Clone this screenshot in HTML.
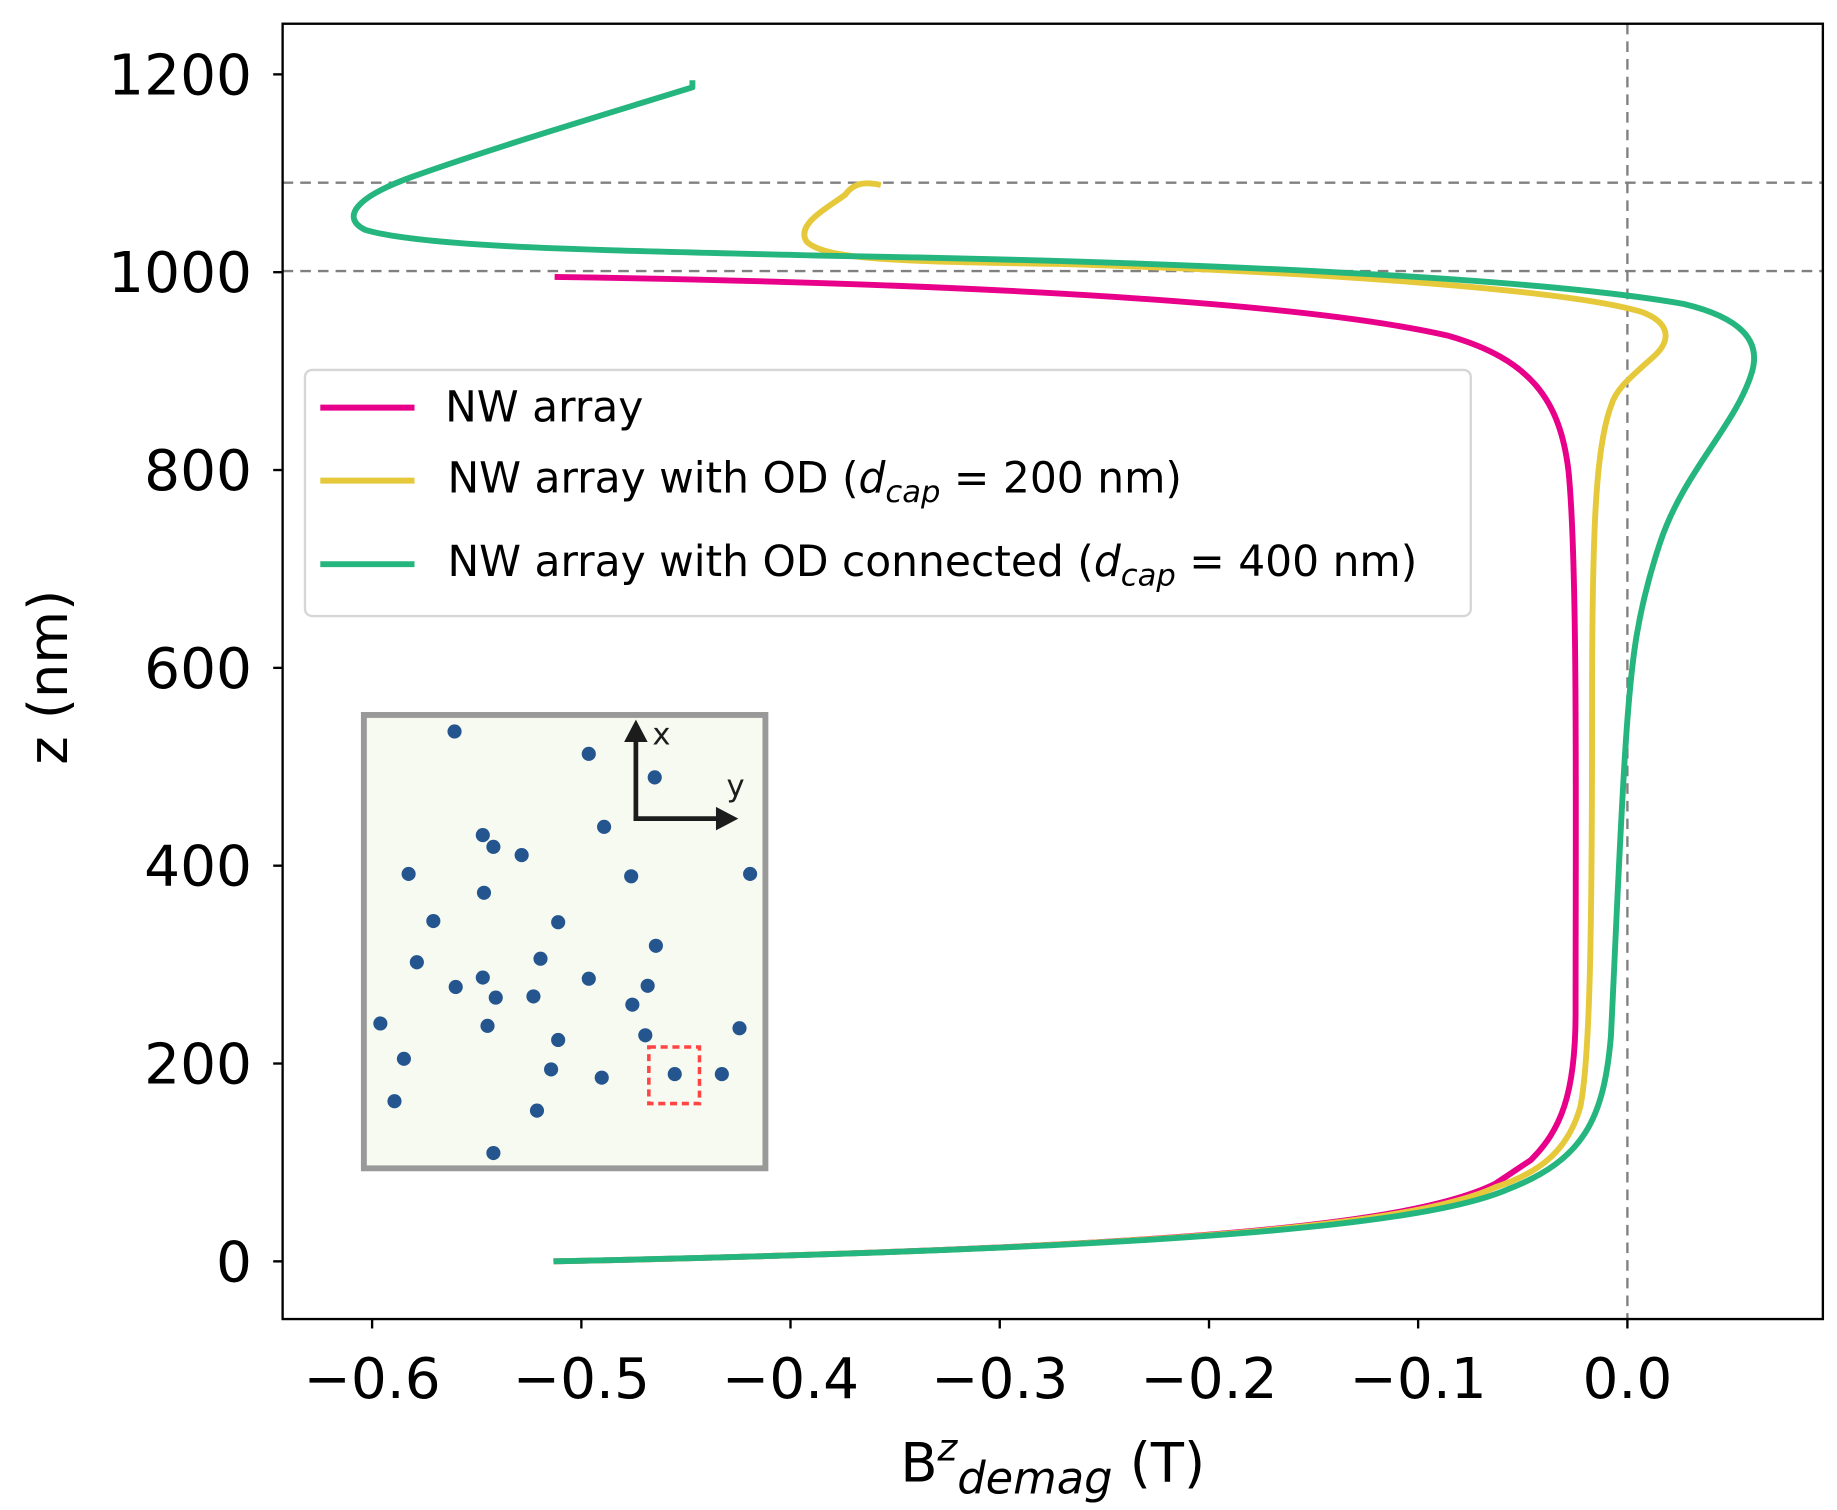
<!DOCTYPE html>
<html><head><meta charset="utf-8"><style>html,body{margin:0;padding:0;background:#fff}svg{display:block}</style></head>
<body>
<svg width="1837" height="1510" viewBox="0 0 1560 1282" xmlns="http://www.w3.org/2000/svg" font-family="'DejaVu Sans','Liberation Sans',sans-serif">
<rect x="0" y="0" width="1560" height="1282" fill="#fff"/>
<g stroke="#808080" stroke-width="2" stroke-dasharray="9,6" fill="none">
<line x1="240" y1="155" x2="1548" y2="155"/>
<line x1="240" y1="230" x2="1548" y2="230"/>
<line x1="1382" y1="20" x2="1382" y2="1120"/>
</g>
<g fill="none" stroke-width="5" stroke-linejoin="round" stroke-linecap="butt">
<path stroke="#e8008a" d="M471,235 C800,240 1100,255 1230,285 C1300,305 1325,340 1332,400 C1340,480 1338,700 1338,860 C1338,930 1325,960 1300,985 L1270,1005 C1200,1040 1000,1060 470,1071"/>
<path stroke="#e5c93a" d="M748,157 C735,154 725,155 718,165 C705,175 675,190 685,205 C700,220 760,222 900,224 C1100,230 1330,245 1395,265 C1420,275 1418,290 1405,302 C1385,320 1372,330 1368,345 C1355,380 1352,450 1352,600 C1352,800 1350,900 1342,940 C1332,975 1310,995 1270,1008 C1200,1040 1000,1060 470,1071"/>
<path stroke="#25b57e" d="M588,68 L588,74 C520,95 420,125 350,150 C300,168 290,185 310,195 C360,210 500,212 700,217 C1000,222 1300,235 1430,258 C1480,270 1495,290 1488,315 C1475,360 1430,400 1410,460 C1390,520 1385,560 1380,640 C1375,720 1372,800 1368,880 C1362,950 1345,985 1280,1010 C1210,1040 1000,1060 470,1071"/>
</g>
<rect x="240" y="20" width="1308" height="1100" fill="none" stroke="#000" stroke-width="2"/>
<g stroke="#000" stroke-width="2">
<line x1="232" y1="63" x2="240" y2="63"/><line x1="232" y1="231" x2="240" y2="231"/><line x1="232" y1="399" x2="240" y2="399"/><line x1="232" y1="567" x2="240" y2="567"/><line x1="232" y1="735" x2="240" y2="735"/><line x1="232" y1="903" x2="240" y2="903"/><line x1="232" y1="1071" x2="240" y2="1071"/>
<line x1="316" y1="1120" x2="316" y2="1128"/><line x1="493.7" y1="1120" x2="493.7" y2="1128"/><line x1="671.3" y1="1120" x2="671.3" y2="1128"/><line x1="849" y1="1120" x2="849" y2="1128"/><line x1="1026.7" y1="1120" x2="1026.7" y2="1128"/><line x1="1204.3" y1="1120" x2="1204.3" y2="1128"/><line x1="1382" y1="1120" x2="1382" y2="1128"/>
</g>
<g font-size="48" fill="#000" text-anchor="end">
<text x="214" y="80">1200</text><text x="214" y="248">1000</text><text x="214" y="416">800</text><text x="214" y="584">600</text><text x="214" y="752">400</text><text x="214" y="920">200</text><text x="214" y="1088">0</text>
</g>
<g font-size="48" fill="#000" text-anchor="middle">
<text x="316" y="1187">−0.6</text><text x="493.7" y="1187">−0.5</text><text x="671.3" y="1187">−0.4</text><text x="849" y="1187">−0.3</text><text x="1026.7" y="1187">−0.2</text><text x="1204.3" y="1187">−0.1</text><text x="1382" y="1187">0.0</text>
</g>
<text x="57" y="575" font-size="46" text-anchor="middle" transform="rotate(-90 57 575)">z (nm)</text>
<text x="894" y="1258" font-size="46" text-anchor="middle">B<tspan font-size="32" dy="-18" font-style="italic">z</tspan><tspan font-size="38" dy="28" font-style="italic">demag</tspan><tspan dy="-10"> (T)</tspan></text>
<rect x="259" y="314" width="990" height="209" rx="6" fill="#fff" fill-opacity="0.8" stroke="#d6d6d6" stroke-width="2"/>
<g stroke-width="5"><line x1="272" y1="346" x2="352" y2="346" stroke="#e8008a"/><line x1="272" y1="408" x2="352" y2="408" stroke="#e5c93a"/><line x1="272" y1="479" x2="352" y2="479" stroke="#25b57e"/></g>
<g font-size="36" fill="#000">
<text x="378" y="358">NW array</text>
<text x="380" y="418">NW array with OD (<tspan font-style="italic">d</tspan><tspan font-style="italic" font-size="26" dy="8">cap</tspan><tspan dy="-8"> = 200 nm)</tspan></text>
<text x="380" y="489">NW array with OD connected (<tspan font-style="italic">d</tspan><tspan font-style="italic" font-size="26" dy="8">cap</tspan><tspan dy="-8"> = 400 nm)</tspan></text>
</g>
<rect x="309" y="607" width="341" height="385" fill="#f6faf0" stroke="#999" stroke-width="5"/>
<g fill="#25558f">
<circle cx="386" cy="621" r="6"/><circle cx="500" cy="640" r="6"/><circle cx="556" cy="660" r="6"/><circle cx="513" cy="702" r="6"/><circle cx="410" cy="709" r="6"/><circle cx="419" cy="719" r="6"/><circle cx="443" cy="726" r="6"/><circle cx="347" cy="742" r="6"/><circle cx="536" cy="744" r="6"/><circle cx="637" cy="742" r="6"/><circle cx="411" cy="758" r="6"/><circle cx="368" cy="782" r="6"/><circle cx="474" cy="783" r="6"/><circle cx="557" cy="803" r="6"/><circle cx="354" cy="817" r="6"/><circle cx="459" cy="814" r="6"/><circle cx="387" cy="838" r="6"/><circle cx="410" cy="830" r="6"/><circle cx="500" cy="831" r="6"/><circle cx="550" cy="837" r="6"/><circle cx="421" cy="847" r="6"/><circle cx="453" cy="846" r="6"/><circle cx="537" cy="853" r="6"/><circle cx="323" cy="869" r="6"/><circle cx="414" cy="871" r="6"/><circle cx="474" cy="883" r="6"/><circle cx="548" cy="879" r="6"/><circle cx="628" cy="873" r="6"/><circle cx="343" cy="899" r="6"/><circle cx="468" cy="908" r="6"/><circle cx="511" cy="915" r="6"/><circle cx="573" cy="912" r="6"/><circle cx="613" cy="912" r="6"/><circle cx="335" cy="935" r="6"/><circle cx="456" cy="943" r="6"/><circle cx="419" cy="979" r="6"/>
</g>
<rect x="551" y="889" width="43" height="48" fill="none" stroke="#f44" stroke-width="3" stroke-dasharray="6,4"/>
<g stroke="#1c1c1c" stroke-width="4" fill="none"><line x1="540" y1="696" x2="540" y2="626"/><line x1="538" y1="695" x2="610" y2="695"/></g>
<polygon points="540,611 530,630 550,630" fill="#1c1c1c"/>
<polygon points="627,695 608,685 608,705" fill="#1c1c1c"/>
<text x="554" y="632" font-size="26" fill="#1c1c1c">x</text>
<text x="617" y="676" font-size="26" fill="#1c1c1c">y</text>
</svg>
</body></html>
